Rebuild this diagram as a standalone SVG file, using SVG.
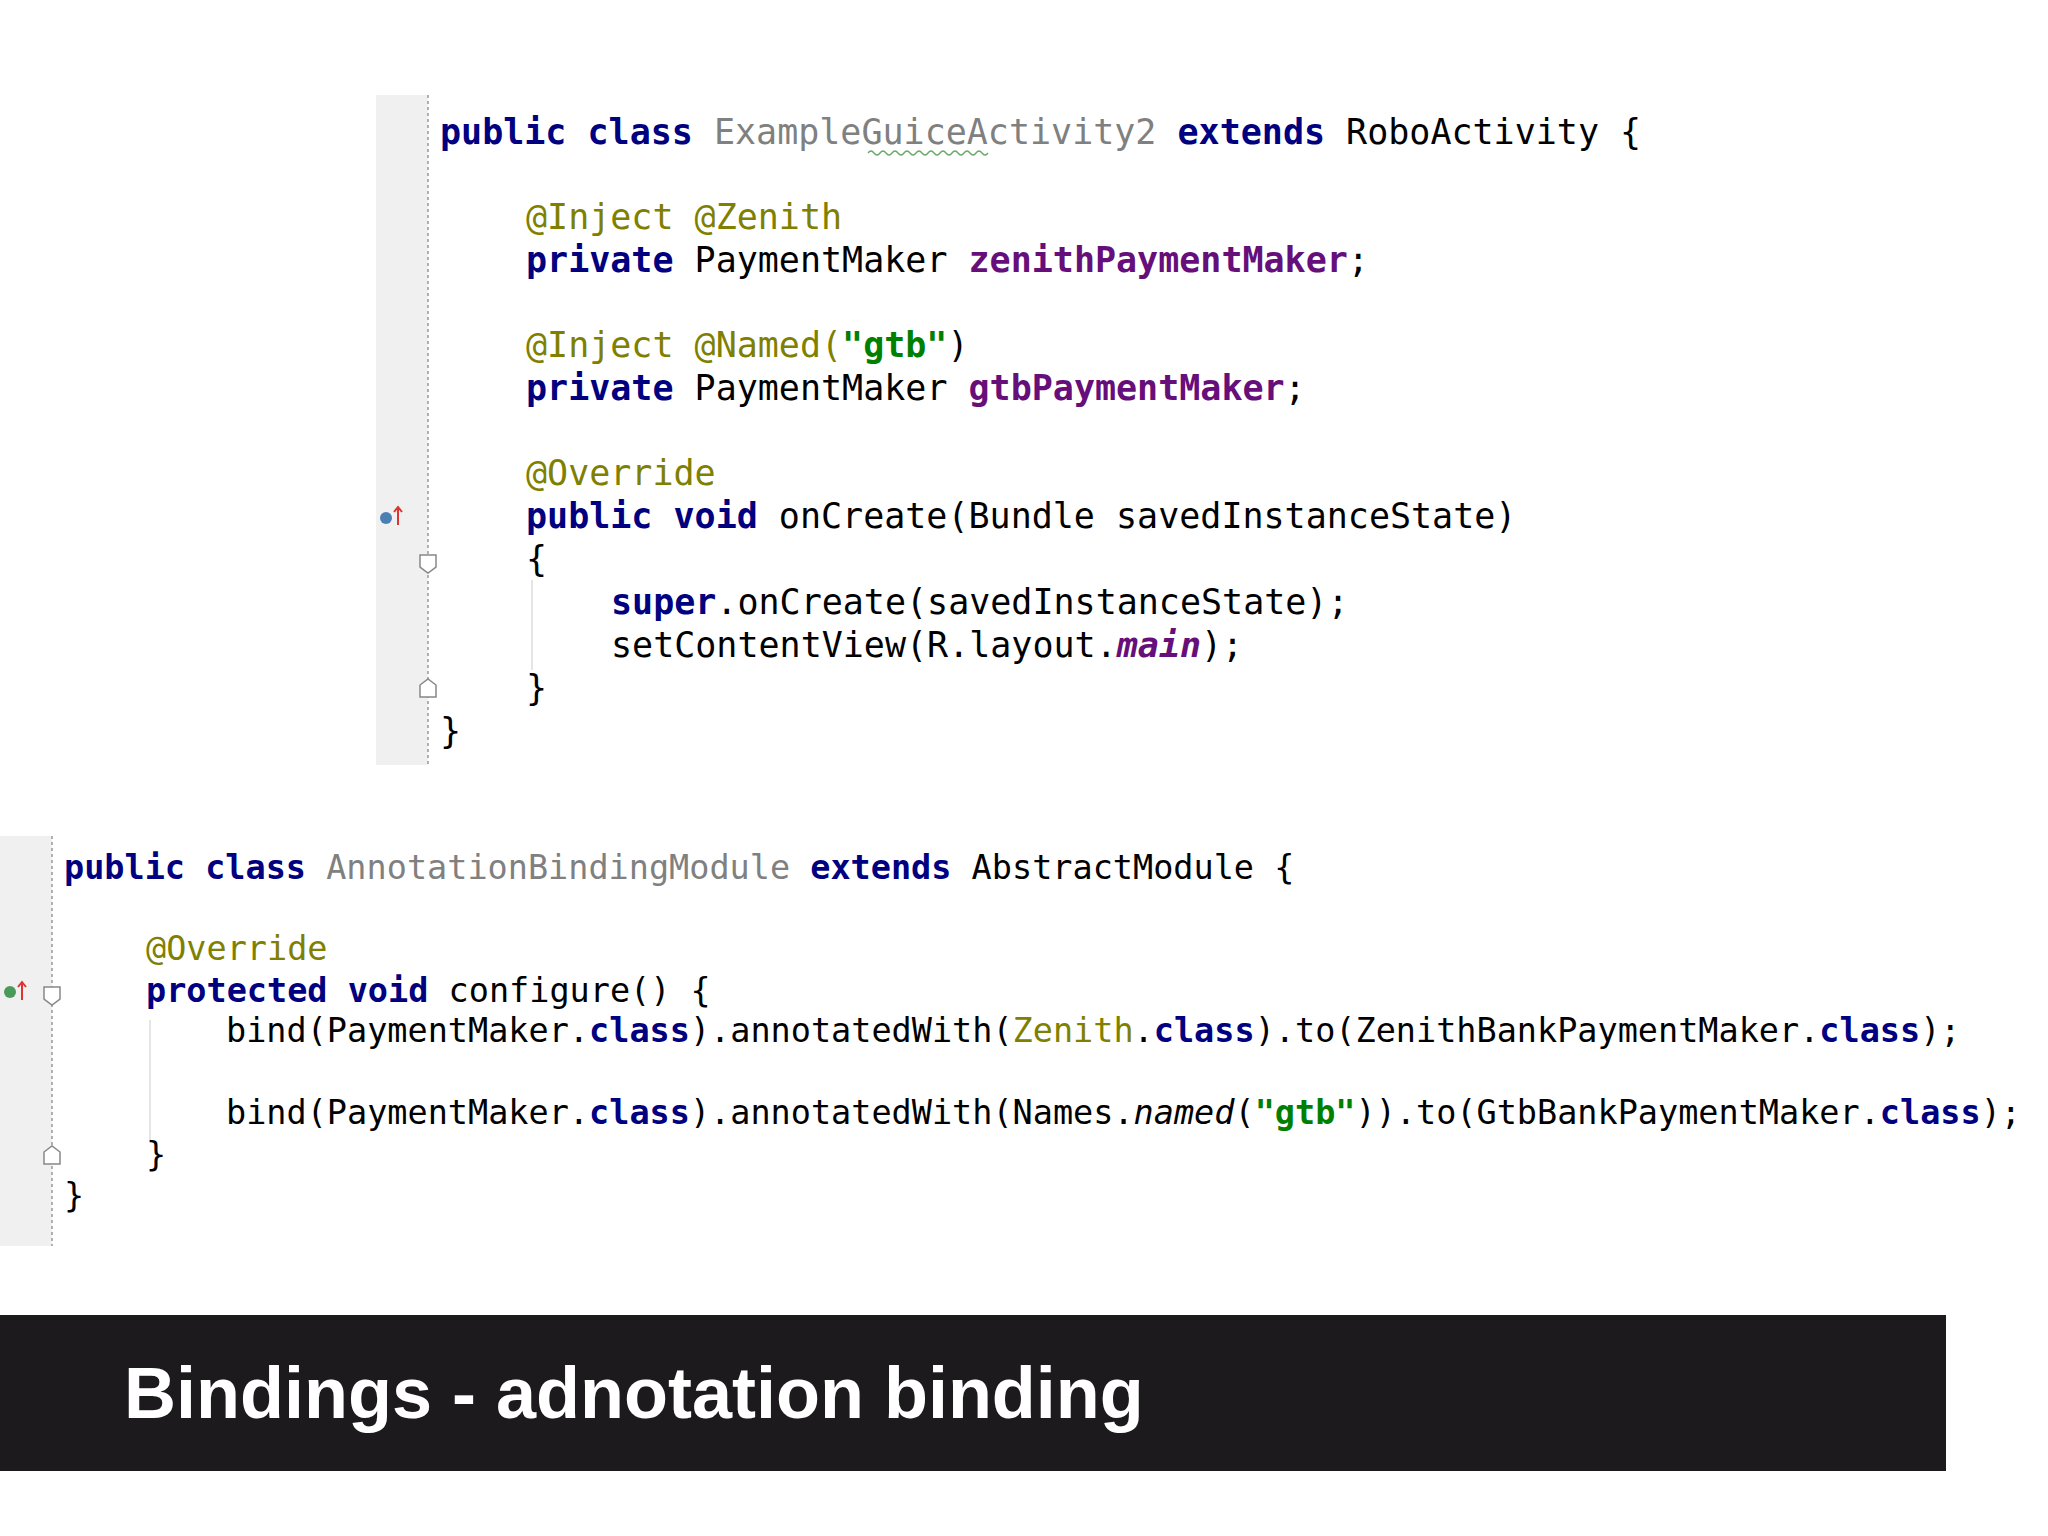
<svg xmlns="http://www.w3.org/2000/svg" width="2048" height="1536" viewBox="0 0 2048 1536">
<style>
.c{font-family:"DejaVu Sans Mono","Liberation Mono",monospace;fill:#000;white-space:pre}
.t{font-size:35px}.b2{font-size:33.5px}
.k{fill:#000080;font-weight:bold}
.a{fill:#808000}
.g{fill:#808080}
.f{fill:#660e7a;font-weight:bold}
.s{fill:#008000;font-weight:bold}
.i{fill:#660e7a;font-weight:bold;font-style:italic}
.it{font-style:italic}
.gut{fill:#f0f0f0}
.dl{stroke:#999;stroke-width:1.5;stroke-dasharray:3 3;fill:none}
.fold{fill:#fff;stroke:#888;stroke-width:1.5}
</style>
<rect width="2048" height="1536" fill="#fff"/>
<g id="code1">
<rect class="gut" x="376" y="95" width="52" height="670"/>
<line class="dl" x1="428" y1="95" x2="428" y2="765"/>
<line x1="532" y1="580" x2="532" y2="670" stroke="#ddd" stroke-width="1.5"/>
<path class="fold" d="M420,555 h16 v12 l-8,6 l-8,-6z"/>
<path class="fold" d="M420,697 h16 v-12 l-8,-6 l-8,6z"/>
<circle cx="386" cy="518" r="6" fill="#4a7fb5"/>
<path d="M398,525 v-18 m-4,5 l4,-5 l4,5" stroke="#d33" stroke-width="2" fill="none"/>
<text class="c t" xml:space="preserve"><tspan x="440" y="144"><tspan class="k">public class </tspan><tspan class="g">ExampleGuiceActivity2</tspan> <tspan class="k">extends</tspan> RoboActivity {</tspan><tspan x="526" y="229" class="a">@Inject @Zenith</tspan><tspan x="526" y="272"><tspan class="k">private</tspan> PaymentMaker <tspan class="f">zenithPaymentMaker</tspan>;</tspan><tspan x="526" y="357"><tspan class="a">@Inject @Named(</tspan><tspan class="s">"gtb"</tspan>)</tspan><tspan x="526" y="400"><tspan class="k">private</tspan> PaymentMaker <tspan class="f">gtbPaymentMaker</tspan>;</tspan><tspan x="526" y="485" class="a">@Override</tspan><tspan x="526" y="528"><tspan class="k">public void</tspan> onCreate(Bundle savedInstanceState)</tspan><tspan x="526" y="571">{</tspan><tspan x="611" y="614"><tspan class="k">super</tspan>.onCreate(savedInstanceState);</tspan><tspan x="611" y="657">setContentView(R.layout.<tspan class="i">main</tspan>);</tspan><tspan x="526" y="700">}</tspan><tspan x="440" y="743">}</tspan></text>
<path d="M868,153 q3,-4 6,0 t6,0 t6,0 t6,0 t6,0 t6,0 t6,0 t6,0 t6,0 t6,0 t6,0 t6,0 t6,0 t6,0 t6,0 t6,0 t6,0 t6,0 t6,0 t6,0" stroke="#6a6" stroke-width="1.3" fill="none"/>
</g>
<g id="code2">
<rect class="gut" x="0" y="836" width="52" height="410"/>
<line class="dl" x1="52" y1="836" x2="52" y2="1246"/>
<line x1="150" y1="1020" x2="150" y2="1140" stroke="#ddd" stroke-width="1.5"/>
<path class="fold" d="M44,987 h16 v12 l-8,6 l-8,-6z"/>
<path class="fold" d="M44,1164 h16 v-12 l-8,-6 l-8,6z"/>
<circle cx="10" cy="992" r="6" fill="#4a9a5a"/>
<path d="M22,1000 v-18 m-4,5 l4,-5 l4,5" stroke="#d33" stroke-width="2" fill="none"/>
<text class="c b2" xml:space="preserve"><tspan x="64" y="879"><tspan class="k">public class </tspan><tspan class="g">AnnotationBindingModule</tspan> <tspan class="k">extends</tspan> AbstractModule {</tspan><tspan x="146" y="960" class="a">@Override</tspan><tspan x="146" y="1002"><tspan class="k">protected void</tspan> configure() {</tspan><tspan x="226" y="1042">bind(PaymentMaker.<tspan class="k">class</tspan>).annotatedWith(<tspan class="a">Zenith</tspan>.<tspan class="k">class</tspan>).to(ZenithBankPaymentMaker.<tspan class="k">class</tspan>);</tspan><tspan x="226" y="1124">bind(PaymentMaker.<tspan class="k">class</tspan>).annotatedWith(Names.<tspan class="it">named</tspan>(<tspan class="s">"gtb"</tspan>)).to(GtbBankPaymentMaker.<tspan class="k">class</tspan>);</tspan><tspan x="146" y="1166">}</tspan><tspan x="64" y="1207">}</tspan></text>
</g>
<g id="title">
<rect x="0" y="1315" width="1946" height="156" fill="#1c1a1d"/>
<text x="124" y="1418" font-family="Liberation Sans,Arial,sans-serif" font-weight="bold" font-size="72" fill="#fff">Bindings - adnotation binding</text>
</g>
</svg>
